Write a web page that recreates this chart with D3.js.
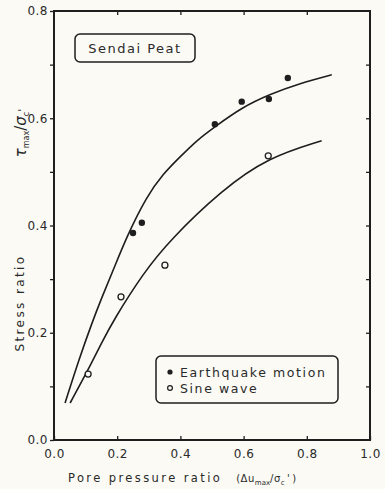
<!DOCTYPE html>
<html>
<head>
<meta charset="utf-8">
<script src="https://cdn.jsdelivr.net/npm/d3@7"></script>
<style>
  html, body { margin: 0; padding: 0; background: #fbfaf5; }
  svg { display: block; }
  text { font-family: "DejaVu Sans", sans-serif; fill: #2a2a2a; }
</style>
</head>
<body>
<div id="chart"></div>
<script>
// SENDAI PEAT - stress ratio vs pore pressure ratio //

// Earthquake motion (filled dots)
const quakeX = [0.250, 0.278, 0.509, 0.594, 0.680, 0.740];
const quakeY = [0.386, 0.405, 0.589, 0.631, 0.636, 0.675];
// Sine wave (open dots)
const sineX = [0.108, 0.212, 0.351, 0.678];
const sineY = [0.123, 0.267, 0.326, 0.530];

// fitted curves
const quakeCurveX = [0.035, 0.080, 0.120, 0.150, 0.187, 0.230, 0.293, 0.346, 0.399, 0.452, 0.509, 0.594, 0.684, 0.778, 0.879];
const quakeCurveY = [0.069, 0.152, 0.218, 0.264, 0.316, 0.379, 0.454, 0.497, 0.528, 0.559, 0.584, 0.620, 0.645, 0.665, 0.681];
const sineCurveX = [0.051, 0.101, 0.155, 0.187, 0.282, 0.367, 0.531, 0.678, 0.847];
const sineCurveY = [0.069, 0.123, 0.186, 0.222, 0.311, 0.373, 0.466, 0.527, 0.558];

// ticks
const xTicks = [0, 0.2, 0.4, 0.6, 0.8, 1.0];
const yTicks = [0, 0.1, 0.2, 0.3, 0.4, 0.5, 0.6, 0.7, 0.8];

const totalWidth = 385;
const totalHeight = 489;
const margin = { top: 11, right: 15, bottom: 49, left: 54 };
const width = totalWidth - margin.left - margin.right;
const height = totalHeight - margin.top - margin.bottom;

const ink = "#1e1e1e";

const svg = d3
	.select("#chart")
	.append("svg")
	.attr("width", totalWidth)
	.attr("height", totalHeight);

const g = svg.append("g").attr("transform", `translate(${margin.left},${margin.top})`);

const x = d3.scaleLinear().domain([0, 1]).range([0, width]);
const y = d3.scaleLinear().domain([0, 0.8]).range([height, 0]);

const fmt = d3.format(".1f");

// bottom axis - ticks point inward
const xAxis = g
	.append("g")
	.attr("transform", `translate(0,${height})`)
	.call(d3.axisBottom(x).tickValues(xTicks).tickSizeInner(-4).tickSizeOuter(0).tickPadding(9).tickFormat(fmt));

// top axis - ticks only
const xAxisTop = g
	.append("g")
	.call(d3.axisBottom(x).tickValues(xTicks.slice(1, -1)).tickSizeInner(4).tickSizeOuter(0).tickFormat(""));

// left axis - labels every 0.2
const yAxis = g
	.append("g")
	.call(
		d3.axisLeft(y)
			.tickValues(yTicks)
			.tickSizeInner(4)
			.tickSizeOuter(0)
			.tickPadding(2)
			.tickFormat((d) => (Math.round(d * 10) % 2 === 0 ? fmt(d) : ""))
	);

// right axis - ticks inward
const yAxisRight = g
	.append("g")
	.attr("transform", `translate(${width},0)`)
	.call(d3.axisLeft(y).tickValues(yTicks.slice(1, -1)).tickSizeInner(4).tickSizeOuter(0).tickFormat(""));

[xAxis, xAxisTop, yAxis, yAxisRight].forEach((a) => {
	a.select(".domain").remove();
	a.selectAll("line").attr("stroke", ink).attr("stroke-width", 1.3);
	a.selectAll("text").style("font-size", "12px").attr("fill", "#2a2a2a").style("letter-spacing", "0.5px");
});

// frame
g.append("rect")
	.attr("x", 0)
	.attr("y", 0)
	.attr("width", width)
	.attr("height", height)
	.attr("fill", "none")
	.attr("stroke", ink)
	.attr("stroke-width", 2);

// curves (smoothed through the read-off points)
const line = d3
	.line()
	.x((d) => x(d[0]))
	.y((d) => y(d[1]))
	.curve(d3.curveBasis);

const quakeCurve = d3.zip(quakeCurveX, quakeCurveY);
const sineCurve = d3.zip(sineCurveX, sineCurveY);

g.append("path")
	.datum(quakeCurve)
	.attr("d", line)
	.attr("fill", "none")
	.attr("stroke", ink)
	.attr("stroke-width", 1.6);

g.append("path")
	.datum(sineCurve)
	.attr("d", line)
	.attr("fill", "none")
	.attr("stroke", ink)
	.attr("stroke-width", 1.6);

// points
g.append("g")
	.selectAll("circle")
	.data(d3.zip(quakeX, quakeY))
	.join("circle")
	.attr("cx", (d) => x(d[0]))
	.attr("cy", (d) => y(d[1]))
	.attr("r", 3.2)
	.attr("fill", ink);

g.append("g")
	.selectAll("circle")
	.data(d3.zip(sineX, sineY))
	.join("circle")
	.attr("cx", (d) => x(d[0]))
	.attr("cy", (d) => y(d[1]))
	.attr("r", 3)
	.attr("fill", "#fbfaf5")
	.attr("stroke", ink)
	.attr("stroke-width", 1.3);

// "Sendai Peat" box
g.append("rect")
	.attr("x", 21)
	.attr("y", 23)
	.attr("width", 120)
	.attr("height", 28)
	.attr("rx", 5)
	.attr("fill", "none")
	.attr("stroke", ink)
	.attr("stroke-width", 1.5);

g.append("text")
	.attr("x", 81)
	.attr("y", 42)
	.attr("text-anchor", "middle")
	.style("font-size", "13px")
	.style("letter-spacing", "1.5px")
	.text("Sendai Peat");

// legend
const legend = g.append("g").attr("transform", "translate(102,345)");

legend
	.append("rect")
	.attr("width", 182)
	.attr("height", 47)
	.attr("rx", 5)
	.attr("fill", "none")
	.attr("stroke", ink)
	.attr("stroke-width", 1.5);

const legendItems = [
	{ label: "Earthquake motion", filled: true },
	{ label: "Sine wave", filled: false },
];

legendItems.forEach((item, i) => {
	const row = legend.append("g").attr("transform", `translate(14,${16 + i * 16})`);
	row.append("circle")
		.attr("r", item.filled ? 2.6 : 2.4)
		.attr("fill", item.filled ? ink : "#fbfaf5")
		.attr("stroke", ink)
		.attr("stroke-width", item.filled ? 0 : 1.2);
	row.append("text")
		.attr("x", 10)
		.attr("y", 4.5)
		.style("font-size", "12.5px")
		.style("letter-spacing", "1.6px")
		.text(item.label);
});

// x title
const xTitle = svg
	.append("text")
	.attr("x", 68)
	.attr("y", 482)
	.style("font-size", "11.5px")
	.style("letter-spacing", "2.4px");
xTitle.append("tspan").text("Pore pressure ratio");
xTitle.append("tspan").attr("dx", 14).style("font-size", "10px").style("letter-spacing", "0.5px").text("(Δu");
xTitle.append("tspan").attr("dy", 3).style("font-size", "7px").style("letter-spacing", "0").text("max");
xTitle.append("tspan").attr("dy", -3).style("font-size", "10px").style("letter-spacing", "0.5px").text("/σ");
xTitle.append("tspan").attr("dy", 3).style("font-size", "7px").text("c");
xTitle.append("tspan").attr("dy", -3).style("font-size", "10px").text("')");

// y titles (rotated)
svg.append("text")
	.attr("transform", "translate(24,303) rotate(-90)")
	.attr("text-anchor", "middle")
	.style("font-size", "12px")
	.style("letter-spacing", "2.4px")
	.text("Stress ratio");

const yTitle = svg
	.append("text")
	.attr("transform", "translate(26,133) rotate(-90)")
	.attr("text-anchor", "middle")
	.style("font-size", "15px");
yTitle.append("tspan").style("font-style", "italic").text("τ");
yTitle.append("tspan").attr("dy", 3).style("font-size", "8px").text("max");
yTitle.append("tspan").attr("dy", -3).text("/");
yTitle.append("tspan").style("font-style", "italic").text("σ");
yTitle.append("tspan").attr("dy", 3).style("font-size", "8px").text("c");
yTitle.append("tspan").attr("dy", -3).style("font-size", "11px").text("'");
</script>
</body>
</html>
